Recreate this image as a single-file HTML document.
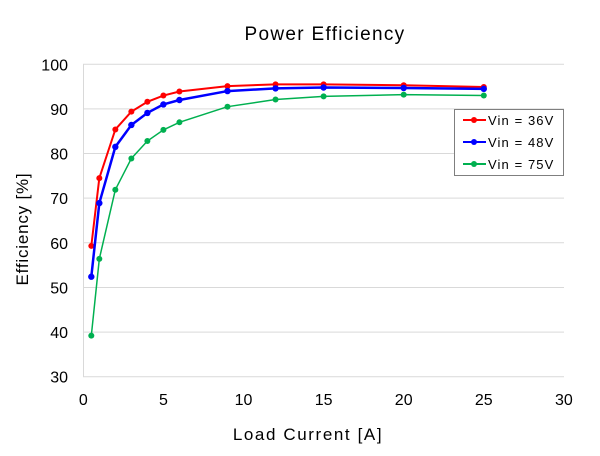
<!DOCTYPE html>
<html><head><meta charset="utf-8"><style>
body{margin:0;background:#fff;width:600px;height:451px;overflow:hidden;font-family:"Liberation Sans","Noto Sans CJK JP",sans-serif}
</style></head><body>
<svg id="s" width="600" height="451" xmlns="http://www.w3.org/2000/svg" font-family="Liberation Sans, Noto Sans CJK JP, sans-serif">
<rect width="600" height="451" fill="#fff"/>
<text x="325" y="40" font-size="19" text-anchor="middle" fill="#000" letter-spacing="1.3">Power Efficiency</text>
<g id="grid"></g>
<line x1="83.5" y1="64" x2="83.5" y2="377" stroke="#d9d9d9" stroke-width="1"/>
<text x="308" y="440" font-size="17" text-anchor="middle" letter-spacing="1.6">Load Current [A]</text>
<text transform="translate(28,229) rotate(-90)" font-size="17" text-anchor="middle" letter-spacing="0.8">Efficiency [%]</text>
<g id="data"></g>
<rect x="454.5" y="109.5" width="109" height="66" fill="#fff" stroke="#7f7f7f" stroke-width="1"/>
<line x1="463" y1="120" x2="486" y2="120" stroke="#ff0000" stroke-width="2"/><circle cx="474" cy="120" r="3" fill="#ff0000"/>
<text x="488" y="125" font-size="13" letter-spacing="1.1">Vin = 36V</text>
<line x1="463" y1="142" x2="486" y2="142" stroke="#0000ff" stroke-width="2"/><circle cx="474" cy="142" r="3" fill="#0000ff"/>
<text x="488" y="147" font-size="13" letter-spacing="1.1">Vin = 48V</text>
<line x1="463" y1="164" x2="486" y2="164" stroke="#00b050" stroke-width="2"/><circle cx="474" cy="164" r="3" fill="#00b050"/>
<text x="488" y="169" font-size="13" letter-spacing="1.1">Vin = 75V</text>
</svg>
<script>
var NS="http://www.w3.org/2000/svg";
function X(v){return 83.3+v*16.02}
function Y(v){return 376.7-(v-30)*4.463}
function el(t,a,p,txt){var e=document.createElementNS(NS,t);for(var k in a)e.setAttribute(k,a[k]);if(txt)e.textContent=txt;p.appendChild(e);return e}
var g=document.getElementById('grid');
for(var v=30;v<=100;v+=10){var y=Y(v);el('line',{x1:83,y1:y,x2:564,y2:y,stroke:'#d9d9d9','stroke-width':1},g);
el('text',{x:68,y:y+6,'font-size':16,'text-anchor':'end'},g,String(v));}
for(var v=0;v<=30;v+=5){el('text',{x:X(v),y:405,'font-size':16,'text-anchor':'middle'},g,String(v));}
var xs=[0.5,1,2,3,4,5,6,9,12,15,20,25];
var S=[['#ff0000',[59.3,74.5,85.4,89.4,91.6,93,93.9,95.1,95.5,95.5,95.3,94.9],2,3],
['#0000ff',[52.4,68.9,81.5,86.4,89.1,91,92,94,94.6,94.8,94.7,94.5],2.5,3.2],
['#00b050',[39.2,56.4,71.9,78.9,82.8,85.3,87,90.5,92.1,92.8,93.2,93],1.5,3]];
var d=document.getElementById('data');
S.forEach(function(s){var pts=xs.map(function(x,i){return X(x)+','+Y(s[1][i])}).join(' ');
el('polyline',{points:pts,fill:'none',stroke:s[0],'stroke-width':s[2]},d);
xs.forEach(function(x,i){el('circle',{cx:X(x),cy:Y(s[1][i]),r:s[3],fill:s[0]},d)});});
</script>
</body></html>
